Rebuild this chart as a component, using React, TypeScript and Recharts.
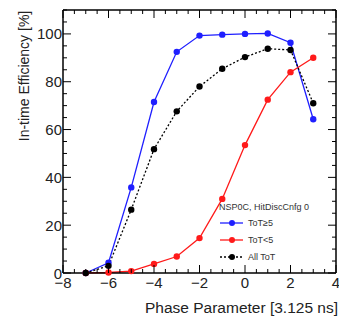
import { LineChart, Line, XAxis, YAxis } from 'recharts';

const phase = [-7, -6, -5, -4, -3, -2, -1, 0, 1, 2, 3];
const totHigh = [0, 4.3, 35.8, 71.5, 92.5, 99.3, 99.7, 100, 100.2, 96.3, 64.3];
const totLow = [0, 0.2, 0.8, 3.8, 6.9, 14.6, 31, 53.5, 72.5, 84, 90];
const allTot = [0, 3, 26.5, 51.8, 67.6, 78, 85.4, 90.3, 93.8, 93.3, 71];

const xTicks = [-8, -7.5, -7, -6.5, -6, -5.5, -5, -4.5, -4, -3.5, -3, -2.5, -2, -1.5, -1, -0.5, 0, 0.5, 1, 1.5, 2, 2.5, 3, 3.5, 4];
const xMajor = [-8, -6, -4, -2, 0, 2, 4];
const yTicks = [0, 5, 10, 15, 20, 25, 30, 35, 40, 45, 50, 55, 60, 65, 70, 75, 80, 85, 90, 95, 100, 105, 110];
const yMajor = [0, 20, 40, 60, 80, 100];

const legendTitle = 'NSP0C, HitDiscCnfg 0';
const series = [
  { key: 'high', name: 'ToT\u22655', color: '#1f1fff', dash: undefined },
  { key: 'low', name: 'ToT<5', color: '#ff1a1a', dash: undefined },
  { key: 'all', name: 'All ToT', color: '#000000', dash: '2 2' },
];

const data = phase.map((x, i) => ({ x, high: totHigh[i], low: totLow[i], all: allTot[i] }));

const FONT = '"Liberation Sans", Arial, Helvetica, sans-serif';
const fmt = (v: number) => (v < 0 ? '\u2212' + Math.abs(v) : String(v));

const BottomTick = (props: any) => {
  const { x, y, payload } = props;
  const major = xMajor.includes(payload.value);
  return (
    <g>
      <line x1={x} x2={x} y1={y} y2={y - (major ? 8 : 4)} stroke="#000" strokeWidth={1} />
      {major && (
        <text x={x} y={y + 15} textAnchor="middle" fontSize={15} fontFamily={FONT} fill="#222">
          {fmt(payload.value)}
        </text>
      )}
    </g>
  );
};

const TopTick = (props: any) => {
  const { x, y, payload } = props;
  const major = xMajor.includes(payload.value);
  return <line x1={x} x2={x} y1={y} y2={y + (major ? 8 : 4)} stroke="#000" strokeWidth={1} />;
};

const LeftTick = (props: any) => {
  const { x, y, payload } = props;
  const major = yMajor.includes(payload.value);
  return (
    <g>
      <line x1={x} x2={x + (major ? 8 : 4)} y1={y} y2={y} stroke="#000" strokeWidth={1} />
      {major && (
        <text x={x - 1} y={y + 5.5} textAnchor="end" fontSize={15} fontFamily={FONT} fill="#222">
          {payload.value}
        </text>
      )}
    </g>
  );
};

const RightTick = (props: any) => {
  const { x, y, payload } = props;
  const major = yMajor.includes(payload.value);
  return <line x1={x} x2={x - (major ? 8 : 4)} y1={y} y2={y} stroke="#000" strokeWidth={1} />;
};

const LegendBox = () => (
  <div
    style={{
      position: 'absolute',
      left: 219,
      top: 202,
      fontFamily: FONT,
      fontSize: 9,
      color: '#333',
      lineHeight: '10px',
      whiteSpace: 'nowrap',
    }}
  >
    <div style={{ marginBottom: 3 }}>{legendTitle}</div>
    {series.map((s) => (
      <div key={s.key} style={{ display: 'flex', alignItems: 'center', height: 16.7 }}>
        <svg width={26} height={8} style={{ marginLeft: 1 }}>
          <line x1={0} x2={23} y1={4} y2={4} stroke={s.color} strokeWidth={1.3} strokeDasharray={s.dash} />
          <circle cx={12} cy={4} r={3} fill={s.color} />
        </svg>
        <span style={{ marginLeft: 2 }}>{s.name}</span>
      </div>
    ))}
  </div>
);

export default function App() {
  return (
    <div style={{ position: 'absolute', left: 0, top: 0, width: 339, height: 316, background: '#fff' }}>
      <LineChart width={339} height={316} data={data} margin={{ top: 9, right: 2, left: 0, bottom: 0 }}>
        <XAxis
          dataKey="x"
          type="number"
          domain={[-8, 4]}
          ticks={xTicks}
          interval={0}
          height={43}
          tickSize={0}
          tickMargin={0}
          tickLine={false}
          tick={BottomTick}
          axisLine={{ stroke: '#000', strokeWidth: 1.5 }}
        />
        <XAxis
          xAxisId="top"
          orientation="top"
          dataKey="x"
          type="number"
          domain={[-8, 4]}
          allowDataOverflow
          ticks={xTicks}
          interval={0}
          height={1}
          tickSize={0}
          tickMargin={0}
          tickLine={false}
          tick={TopTick}
          axisLine={{ stroke: '#000', strokeWidth: 1.5 }}
        />
        <YAxis
          type="number"
          domain={[0, 110]}
          ticks={yTicks}
          interval={0}
          width={63}
          tickSize={0}
          tickMargin={0}
          tickLine={false}
          tick={LeftTick}
          axisLine={{ stroke: '#000', strokeWidth: 1.5 }}
        />
        <YAxis
          yAxisId="right"
          orientation="right"
          type="number"
          domain={[0, 110]}
          allowDataOverflow
          ticks={yTicks}
          interval={0}
          width={1}
          tickSize={0}
          tickMargin={0}
          tickLine={false}
          tick={RightTick}
          axisLine={{ stroke: '#000', strokeWidth: 1.5 }}
        />
        <Line
          xAxisId="top"
          yAxisId="right"
          dataKey="all"
          stroke="none"
          dot={false}
          activeDot={false}
          legendType="none"
          isAnimationActive={false}
        />
        {series.map((s) => (
          <Line
            key={s.key}
            dataKey={s.key}
            name={s.name}
            type="linear"
            stroke={s.color}
            strokeWidth={1.3}
            strokeDasharray={s.dash}
            dot={{ r: 3.2, fill: s.color, strokeWidth: 0 }}
            isAnimationActive={false}
          />
        ))}
      </LineChart>
      <LegendBox />
      <div
        style={{
          position: 'absolute',
          left: 24,
          top: 76,
          transform: 'translate(-50%, -50%) rotate(-90deg)',
          whiteSpace: 'nowrap',
          fontFamily: FONT,
          fontSize: 14,
          color: '#222',
        }}
      >
        In-time Efficiency [%]
      </div>
      <div
        style={{
          position: 'absolute',
          right: 1,
          top: 300,
          whiteSpace: 'nowrap',
          fontFamily: FONT,
          fontSize: 15.5,
          lineHeight: '16px',
          color: '#222',
        }}
      >
        Phase Parameter [3.125 ns]
      </div>
    </div>
  );
}
